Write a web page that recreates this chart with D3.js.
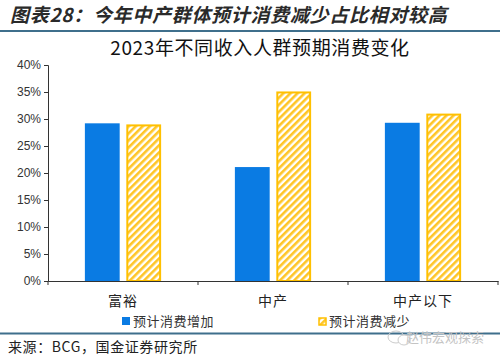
<!DOCTYPE html>
<html><head><meta charset="utf-8">
<script src="https://cdn.jsdelivr.net/npm/d3@7"></script>
<style>body{margin:0;background:#fff}svg{display:block}</style>
</head><body>
<script>
const categories = ["富裕", "中产", "中产以下"];
const seriesNames = ["预计消费增加", "预计消费减少"];
const increase = [29.2, 21.1, 29.3];
const decrease = [29.0, 35.1, 31.0];
const yTicks = [0, 5, 10, 15, 20, 25, 30, 35, 40];

const W = 500, H = 358;
const svg = d3.select("body").append("svg").attr("width", W).attr("height", H);
const defs = svg.append("defs");
const pat = defs.append("pattern").attr("id", "hatch").attr("patternUnits", "userSpaceOnUse")
  .attr("width", 5).attr("height", 5).attr("patternTransform", "rotate(45)");
pat.append("rect").attr("width", 5).attr("height", 5).attr("fill", "#fff");
pat.append("rect").attr("width", 2.6).attr("height", 5).attr("fill", "#FFC526");

const cjk = "'Noto Sans CJK SC', sans-serif";
// header
svg.append("text").attr("x", 10).attr("y", 22).attr("font-family", cjk)
  .attr("font-size", 19).attr("font-weight", "bold").attr("font-style", "italic")
  .attr("letter-spacing", 0.7).attr("fill", "#2a2a2a").text("图表28：今年中产群体预计消费减少占比相对较高");
svg.append("line").attr("x1", 0).attr("x2", W).attr("y1", 31).attr("y2", 31)
  .attr("stroke", "#3f6f8c").attr("stroke-width", 2);
svg.append("text").attr("x", 260).attr("y", 55).attr("text-anchor", "middle")
  .attr("font-family", cjk).attr("font-size", 19).attr("letter-spacing", 0.6).attr("fill", "#111")
  .text("2023年不同收入人群预期消费变化");

const x0 = d3.scaleBand().domain(categories).range([48, 498]);
const x1 = d3.scaleBand().domain(seriesNames).range([0, 150]).paddingInner(0.16).paddingOuter(0.89);
const y = d3.scaleLinear().domain([0, 40]).range([281, 65]);

const yAxis = svg.append("g").attr("transform", "translate(48,0)")
  .call(d3.axisLeft(y).tickValues(yTicks).tickSize(4).tickFormat(d => d + "%"));
yAxis.selectAll("text").attr("font-family", "Arial, 'Liberation Sans', sans-serif").attr("font-size", 12).attr("fill", "#333");
yAxis.select(".domain").attr("stroke", "#333");
yAxis.selectAll(".tick line").attr("stroke", "#333");

const groups = svg.append("g").selectAll("g").data(categories).join("g")
  .attr("transform", d => `translate(${x0(d)},0)`);
groups.append("rect").attr("x", x1(seriesNames[0])).attr("width", x1.bandwidth())
  .attr("y", (d, i) => y(increase[i])).attr("height", (d, i) => y(0) - y(increase[i]))
  .attr("fill", "#0A7BE3");
groups.append("rect").attr("x", x1(seriesNames[1]) + 1).attr("width", x1.bandwidth() - 2)
  .attr("y", (d, i) => y(decrease[i]) + 1).attr("height", (d, i) => y(0) - y(decrease[i]) - 1)
  .attr("fill", "url(#hatch)").attr("stroke", "#FFC000").attr("stroke-width", 2);

const xAxis = svg.append("g").attr("transform", "translate(0,281)")
  .call(d3.axisBottom(x0).tickSize(0).tickPadding(15));
xAxis.select(".domain").attr("stroke", "#333");
xAxis.selectAll("text").attr("font-family", cjk).attr("font-size", 14).attr("letter-spacing", 1).attr("fill", "#222");
xAxis.selectAll(".btick").data(x0.domain().map(d => x0(d)).concat([x0.range()[1]])).join("line")
  .attr("x1", d => d).attr("x2", d => d).attr("y1", 0).attr("y2", 4).attr("stroke", "#333");

// legend
const leg = [{x: 122, fill: "#0A7BE3"}, {x: 318, fill: "url(#hatch)"}];
leg.forEach((l, i) => {
  svg.append("rect").attr("x", l.x + (i ? 1 : 0)).attr("y", 317 + (i ? 1 : 0)).attr("width", i ? 7 : 8).attr("height", i ? 7 : 8)
    .attr("fill", l.fill).attr("stroke", i ? "#FFC000" : "none").attr("stroke-width", 1.5);
  svg.append("text").attr("x", l.x + 11).attr("y", 326).attr("font-family", cjk)
    .attr("font-size", 13).attr("letter-spacing", 0.5).attr("fill", "#333").text(seriesNames[i]);
});

svg.append("line").attr("x1", 0).attr("x2", W).attr("y1", 333.5).attr("y2", 333.5)
  .attr("stroke", "#3f6f8c").attr("stroke-width", 2);

// watermark
svg.append("ellipse").attr("cx", 396).attr("cy", 337).attr("rx", 8).attr("ry", 6)
  .attr("fill", "none").attr("stroke", "#ccc").attr("stroke-width", 1);
svg.append("ellipse").attr("cx", 404).attr("cy", 340).attr("rx", 6).attr("ry", 5)
  .attr("fill", "#fff").attr("stroke", "#ccc").attr("stroke-width", 1);
svg.append("text").attr("x", 484).attr("y", 342).attr("text-anchor", "end").attr("font-family", cjk)
  .attr("font-size", 13).attr("fill", "#c4c4c4").text("赵伟宏观探索");

svg.append("text").attr("x", 8).attr("y", 352).attr("font-family", cjk)
  .attr("font-size", 14).attr("letter-spacing", 0.6).attr("fill", "#222").text("来源：BCG，国金证券研究所");
</script>
</body></html>
